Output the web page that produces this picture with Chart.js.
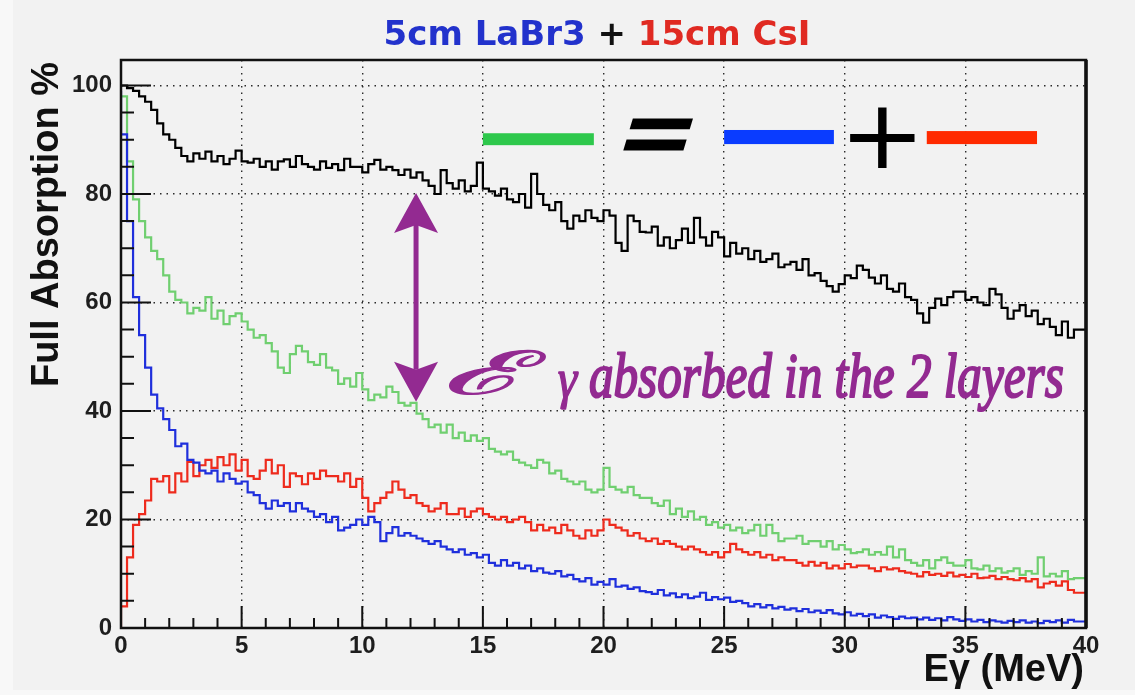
<!DOCTYPE html>
<html>
<head>
<meta charset="utf-8">
<title>5cm LaBr3 + 15cm CsI</title>
<script src="https://cdn.jsdelivr.net/npm/chart.js@4.4.1/dist/chart.umd.min.js"></script>
<style>
  html, body { margin: 0; padding: 0; background: #f2f2f2; }
  canvas { display: block; }
</style>
</head>
<body>
<canvas id="absChart" width="1135" height="695"></canvas>
<script>
// bins of 0.25 MeV from 0 to 40 MeV
const binWidth = 0.25;
const binEdges = Array.from({ length: 161 }, (_, i) => i * binWidth);

// full absorption in the 2 layers (black)
const totalAbs = [
  100, 100, 99.5, 99, 98, 97, 95.5, 93,
  91, 90, 88.5, 87, 86, 87.5, 86.5, 87.8,
  86, 87, 85.5, 86.5, 88, 86, 85.8, 86.5,
  85, 86, 84.5, 86, 86.4, 85, 87, 85.5,
  85, 84.5, 86, 84.8, 85.5, 84.4, 86.5, 85,
  85, 84, 85.5, 86.3, 84.5, 85, 84.4, 83.5,
  84.5, 83, 84, 82.5, 81.5, 80, 84.4, 82,
  81, 82.5, 80.5, 81.5, 85.8, 81, 80.5, 79.7,
  81, 79, 78.5, 80, 77.5, 83.7, 80, 78,
  77, 78.5, 75, 73.6, 76, 75, 77, 75.6,
  75, 77, 76, 71, 69.5, 76, 75, 73,
  72.9, 74, 70.5, 72, 70, 71.5, 73.6, 71,
  75.6, 72, 70.5, 73, 72, 68.5, 71, 69,
  70, 68, 69.5, 67.5, 68, 69, 66.5, 67,
  67.5, 66, 68, 65, 65.4, 64, 63, 62,
  63.4, 65, 64.5, 66.8, 66, 64.6, 63.5, 65,
  62.5, 62, 63.5, 61, 60.5, 58, 56.3, 59,
  60.7, 59.5, 61, 62, 62, 60.5, 61, 60,
  59.5, 62.5, 61.5, 59, 57, 58.5, 59.5, 57.5,
  58.5, 56, 57, 55.5, 54, 56.5, 53.5, 55
];

// LaBr3 + CsI (green)
const sumLayers = [
  94, 98, 86, 79, 75, 72, 69.5, 68,
  65, 62, 60.5, 60, 58, 59, 58.5, 61,
  57, 58.5, 56, 57.5, 58, 56.5, 55, 53.5,
  54, 52.5, 51, 48, 47, 50.5, 52, 51,
  49, 48.5, 50.5, 48, 47.5, 45, 46, 44.5,
  47, 44, 42, 43, 42.5, 44.5, 43.5, 41.5,
  41, 41.5, 39.5, 38.5, 37, 37.5, 36, 37.5,
  35, 36, 34.5, 35.5, 34.5, 35, 33, 32.5,
  32, 32.5, 31, 30.5, 30, 29.5, 31, 30.5,
  28.5, 29, 27.5, 27, 26.5, 27, 25.5, 25,
  25.5, 29.5, 26, 25.5, 25, 26, 24.5, 24,
  24, 23, 22.5, 23.5, 21, 22, 20.5, 21.5,
  20, 20.5, 19, 19.5, 18.5, 19, 18, 18.5,
  17.5, 18, 19, 17, 19, 17.5, 16, 16.5,
  16.5, 17, 15.5, 16, 16, 15, 16, 14.5,
  15.3, 14.5, 13.8, 14, 14.5, 13.5, 14, 13.5,
  15, 13, 14.5, 12.5, 12, 11.5, 12.5, 11,
  12.5, 13, 12, 11.5, 11.5, 12.5, 11, 10.8,
  11.5, 10.5, 11, 10.2, 10.5, 11, 9.8, 10.5,
  10, 13, 9.5, 10, 9.5, 10.5, 9, 9.2
];

// 5cm LaBr3 layer (blue)
const labr3 = [
  99, 91, 75, 61, 54, 48, 43, 40.5,
  38.5, 36.5, 33.5, 34, 31, 30.5, 29, 28.5,
  29, 27, 28.5, 27.5, 26.6, 27, 25, 24.5,
  23, 22, 23.5, 22.5, 23, 21.5, 23, 22,
  21.5, 20.5, 21, 19.5, 20.5, 18, 18.5, 19,
  20, 19, 20.5, 19.5, 16, 17.5, 18.6, 17,
  17.5, 17, 16.5, 16, 15.5, 16, 15, 14.5,
  14, 14.5, 13.5, 13.8, 13, 13.5, 12, 11.5,
  12.5, 11.5, 12, 11, 11.5, 10.5, 11, 10.2,
  10, 10.5, 9.5, 9.8, 9, 8.6, 9.2, 8,
  8.5, 8, 9, 7.6, 7.8, 7.2, 7.5, 6.8,
  6.6, 6.3, 7, 6, 6.4, 5.7, 6.2, 5.5,
  5.8, 6.5, 5.2, 5.7, 5.3, 5.6, 4.8, 5,
  4.6, 4, 4.4, 3.8, 4.2, 3.6, 3.9, 3.4,
  3.6, 3.1, 3.5, 2.9, 3.2, 2.8, 3.3, 2.7,
  2.5, 2.9, 2.3, 2.6, 2.2, 2.5, 1.9, 2.3,
  2, 1.7, 2.1, 1.8, 1.9, 1.6, 1.9, 1.5,
  1.8, 1.4, 2, 1.6, 1.3, 1.6, 1.2, 1.5,
  1.1, 1.4, 1.2, 1, 1.3, 1.1, 1.4, 1,
  1.2, 0.9, 1.3, 1.1, 1.4, 1, 1.5, 1.2
];

// 15cm CsI layer (red)
const csi = [
  0, 4, 13, 19, 21, 23.5, 27.5, 27,
  28, 25, 28.5, 27, 30.6, 28, 30, 31,
  29.5, 31.5, 30, 32, 29, 31, 28, 27.5,
  29, 31, 28.5, 30, 26, 28.5, 28, 26.5,
  28.5, 27.5, 29, 28, 28, 27, 28.5, 26,
  27.5, 24, 21.5, 23, 24, 25, 27, 25.5,
  24, 24.5, 23, 22.5, 21.5, 22, 23, 21,
  21, 22, 20.5, 21.5, 22, 21, 20.5, 20,
  20.5, 19.5, 20, 20.5, 19.5, 18, 19, 18,
  18.5, 17.5, 19, 18, 17, 16.5, 18, 17,
  18, 20, 19, 18.5, 18, 17, 17.5, 16.5,
  16, 16.5, 15.5, 16, 15.5, 15, 14.5, 15,
  14.5, 14, 13.5, 14, 13, 14, 15.5, 14.5,
  14, 13.5, 14, 13, 13.5, 12.5, 13, 12.5,
  12.5, 12, 11.5, 12.2, 11.5, 12, 11, 11.5,
  11, 11.8, 11.2, 11.5, 11.5, 11, 10.5, 11.2,
  10.8, 11, 10.5, 10.2, 10, 9.5, 10.3, 9.8,
  10, 9.6, 10.2, 9.5, 9.8, 9.4, 10, 9.2,
  9.3, 9.6, 9, 9.4, 9, 8.8, 9.2, 8.6,
  9, 7.5, 8.2, 8.5, 7.8, 8.6, 7, 6.5
];

const xTicks = [0, 5, 10, 15, 20, 25, 30, 35, 40];
const yTicks = [0, 20, 40, 60, 80, 100];

const purple = '#932a91';
const tickFont = { family: "'Liberation Sans', Arial, sans-serif", size: 24, weight: 'bold' };

function histPoints(values) {
  const pts = values.map((v, i) => ({ x: binEdges[i], y: v }));
  pts.push({ x: binEdges[values.length], y: values[values.length - 1] });
  return pts;
}

// draws text scaled to fill a box exactly, with optional slant and outline
function fitText(ctx, str, font, x0, x1, y0, y1, slant = 0, outline = 0) {
  ctx.save();
  ctx.font = font;
  ctx.textAlign = 'left';
  ctx.textBaseline = 'alphabetic';
  const m = ctx.measureText(str);
  const w = m.actualBoundingBoxLeft + m.actualBoundingBoxRight;
  const h = m.actualBoundingBoxAscent + m.actualBoundingBoxDescent;
  ctx.translate(x0, y1);
  ctx.transform(1, 0, -slant, 1, 0, 0);
  ctx.translate(0, y0 - y1);
  ctx.scale((x1 - x0 - slant * (y1 - y0)) / w, (y1 - y0) / h);
  ctx.fillText(str, m.actualBoundingBoxLeft, m.actualBoundingBoxAscent);
  if (outline) {
    ctx.lineWidth = outline;
    ctx.lineJoin = 'round';
    ctx.strokeText(str, m.actualBoundingBoxLeft, m.actualBoundingBoxAscent);
  }
  ctx.restore();
}

const background = {
  id: 'background',
  beforeDraw(chart) {
    const ctx = chart.ctx;
    ctx.save();
    ctx.fillStyle = '#f8f8f8';
    ctx.fillRect(0, 0, chart.width, chart.height);
    ctx.fillStyle = '#f2f2f2';
    ctx.fillRect(13, 0, chart.width - 13, 690);
    ctx.restore();
  }
};

const rootFrame = {
  id: 'rootFrame',
  afterDraw(chart) {
    const { ctx, chartArea: a, scales: { x, y } } = chart;
    ctx.save();
    ctx.strokeStyle = '#111';
    ctx.lineWidth = 2;
    ctx.beginPath();
    for (let v = 0; v <= 104; v += 5) {
      const py = y.getPixelForValue(v);
      ctx.moveTo(a.left, py);
      ctx.lineTo(a.left + (v % 20 === 0 ? 30 : 13), py);
    }
    for (let e = 0; e <= 40; e += 1) {
      const px = x.getPixelForValue(e);
      ctx.moveTo(px, a.bottom);
      ctx.lineTo(px, a.bottom - (e % 5 === 0 ? 22 : 10));
    }
    ctx.stroke();
    ctx.lineWidth = 2.5;
    ctx.strokeRect(a.left, a.top, a.right - a.left, a.bottom - a.top);
    ctx.lineWidth = 3.5;
    ctx.beginPath();
    ctx.moveTo(a.right, a.top);
    ctx.lineTo(a.right, a.bottom);
    ctx.stroke();

    // titles
    ctx.fillStyle = '#111';
    ctx.font = "bold 38px 'Liberation Sans', Arial, sans-serif";
    ctx.save();
    ctx.translate(58, 62);
    ctx.rotate(-Math.PI / 2);
    ctx.textAlign = 'right';
    ctx.textBaseline = 'alphabetic';
    ctx.fillText('Full Absorption %', 0, 0);
    ctx.restore();

    ctx.font = "bold 38px 'Liberation Sans', Arial, sans-serif";
    ctx.textAlign = 'right';
    ctx.fillText('Eγ (MeV)', 1084, 681);

    const parts = [['5cm LaBr3', '#2232cc'], [' + ', '#111'], ['15cm CsI', '#e02a22']];
    ctx.font = "bold 34px 'DejaVu Sans', sans-serif";
    ctx.textAlign = 'left';
    const total = parts.reduce((s, p) => s + ctx.measureText(p[0]).width, 0);
    let tx = 597 - total / 2;
    parts.forEach(([str, col]) => {
      ctx.fillStyle = col;
      ctx.fillText(str, tx, 45);
      tx += ctx.measureText(str).width;
    });
    ctx.restore();
  }
};

const notes = {
  id: 'notes',
  afterDraw(chart) {
    const { ctx, scales: { x, y } } = chart;
    const X = v => x.getPixelForValue(v);
    const Y = v => y.getPixelForValue(v);
    ctx.save();

    // green = blue + red
    const bar = (e0, e1, v0, v1, col) => {
      ctx.fillStyle = col;
      ctx.fillRect(X(e0), Y(v1), X(e1) - X(e0), Y(v0) - Y(v1));
    };
    bar(15.0, 19.6, 89.0, 91.2, '#2ec84c');
    bar(25.0, 29.55, 89.2, 91.8, '#0a3cff');
    bar(33.4, 37.97, 89.2, 91.6, '#ff2a00');
    ctx.fillStyle = '#000';
    fitText(ctx, '=', "bold 80px 'DejaVu Sans', sans-serif", X(20.8), X(23.75), Y(94.2), Y(88.1), 0.3);
    fitText(ctx, '+', "60px 'DejaVu Sans', sans-serif", X(30.2), X(32.9), Y(96.4), Y(84.8));

    // double arrow
    const ax = X(12.23), yTop = Y(80.2), yBot = Y(41.7);
    const head = 40, half = 22, notch = 8;
    ctx.strokeStyle = purple;
    ctx.fillStyle = purple;
    ctx.lineWidth = 5;
    ctx.beginPath();
    ctx.moveTo(ax, yTop + head - notch);
    ctx.lineTo(ax, yBot - head + notch);
    ctx.stroke();
    ctx.beginPath();
    ctx.moveTo(ax, yTop);
    ctx.lineTo(ax + half, yTop + head);
    ctx.lineTo(ax, yTop + head - notch);
    ctx.lineTo(ax - half, yTop + head);
    ctx.closePath();
    ctx.fill();
    ctx.beginPath();
    ctx.moveTo(ax, yBot);
    ctx.lineTo(ax + half, yBot - head);
    ctx.lineTo(ax, yBot - head + notch);
    ctx.lineTo(ax - half, yBot - head);
    ctx.closePath();
    ctx.fill();

    const script = "italic 48px 'Liberation Serif', serif";
    fitText(ctx, 'ℰ', script, X(13.5), X(17.6), Y(51.2), Y(42.9), 0, 1);
    fitText(ctx, 'γ', script, X(18.1), X(18.95), Y(47.2), Y(40.5), 0, 1.2);
    fitText(ctx, 'absorbed in the 2 layers', script, X(19.44), X(39.05), Y(51.2), Y(40.2), 0, 1.6);
    ctx.restore();
  }
};

const datasets = [
  { label: '5cm LaBr3', data: histPoints(labr3), borderColor: '#1f2fdc' },
  { label: '15cm CsI', data: histPoints(csi), borderColor: '#ee2b1d' },
  { label: 'LaBr3 + CsI', data: histPoints(sumLayers), borderColor: '#70cf70' },
  { label: 'absorbed in the 2 layers', data: histPoints(totalAbs), borderColor: '#000000' }
].map(d => Object.assign(d, { stepped: 'after', borderWidth: 2.2, pointRadius: 0, fill: false }));

const gridOpts = { color: '#2a2a2a', lineWidth: 1.4, drawTicks: false };

new Chart(document.getElementById('absChart'), {
  type: 'line',
  data: { datasets },
  options: {
    responsive: false,
    animation: false,
    events: [],
    layout: { padding: { top: 60, right: 49, left: 0, bottom: 0 } },
    plugins: { legend: { display: false }, title: { display: false }, tooltip: { enabled: false } },
    scales: {
      x: {
        type: 'linear', min: 0, max: 40,
        afterFit: s => { s.height = 67; },
        afterBuildTicks: s => { s.ticks = xTicks.map(v => ({ value: v })); },
        ticks: { font: tickFont, color: '#1e1e1e', padding: 4, maxRotation: 0, autoSkip: false },
        grid: gridOpts,
        border: { display: false, dash: [1.5, 5] }
      },
      y: {
        type: 'linear', min: 0, max: 104.7,
        afterFit: s => { s.width = 121; },
        afterBuildTicks: s => { s.ticks = yTicks.map(v => ({ value: v })); },
        ticks: { font: tickFont, color: '#1e1e1e', padding: 9 },
        grid: gridOpts,
        border: { display: false, dash: [1.5, 5] }
      }
    }
  },
  plugins: [background, rootFrame, notes]
});
</script>
</body>
</html>
